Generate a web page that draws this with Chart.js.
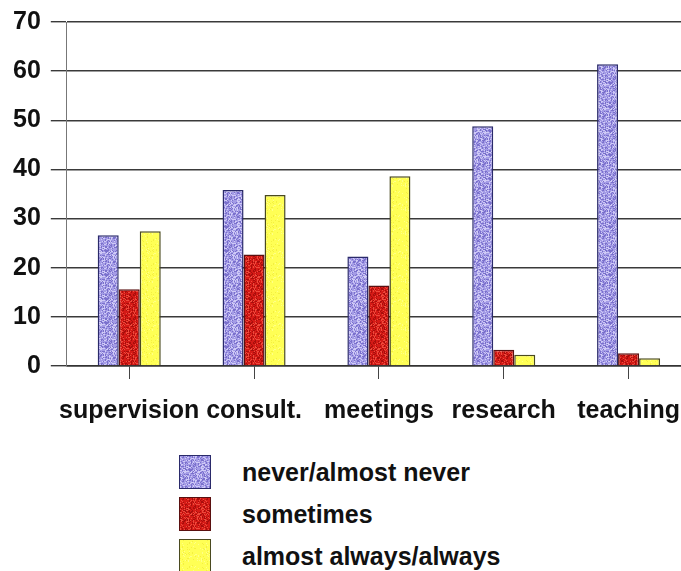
<!DOCTYPE html>
<html>
<head>
<meta charset="utf-8">
<script src="https://cdn.jsdelivr.net/npm/chart.js@4"></script>
<style>
  html, body { margin: 0; padding: 0; background: #fff; overflow: hidden; }
  #wrap { position: relative; width: 681px; height: 571px; overflow: hidden; }
  #box { position: absolute; left: 0; top: -3px; width: 700px; height: 446px; }
  #legend { position: absolute; left: 179px; top: 455px; }
  .row { display: flex; align-items: center; height: 34px; margin-bottom: 8px; }
  .sw { width: 32px; height: 34px; box-sizing: border-box; border: 1.5px solid #333; }
  .lab { margin-left: 31px; font: bold 25px "Liberation Sans", Arial, sans-serif; color: #111; white-space: nowrap; }
</style>
</head>
<body>
<div id="wrap">
  <div id="box"><canvas id="chart"></canvas></div>
  <div id="legend"></div>
</div>
<script>
// Activities and share of answers (%)
const categories = ['supervision', 'consult.', 'meetings', 'research', 'teaching'];
const seriesNames = ['never/almost never', 'sometimes', 'almost always/always'];
const neverValues = [26.6, 35.8, 22.3, 48.8, 61.4];
const sometimesValues = [15.6, 22.7, 16.4, 3.3, 2.6];
const alwaysValues = [27.4, 34.8, 38.6, 2.3, 1.6];
const yTicks = [0, 10, 20, 30, 40, 50, 60, 70];

// Speckled fill texture, seeded so it is the same on every load
function speckle(base, light, dark, amount) {
  const c = document.createElement('canvas');
  c.width = 24; c.height = 24;
  const g = c.getContext('2d');
  g.fillStyle = base;
  g.fillRect(0, 0, 24, 24);
  let s = 12345;
  const rnd = () => { s = (s * 1103515245 + 12345) & 0x7fffffff; return s / 0x7fffffff; };
  for (let y = 0; y < 24; y++) {
    for (let x = 0; x < 24; x++) {
      const r = rnd();
      if (r < amount) { g.fillStyle = light; g.fillRect(x, y, 1, 1); }
      else if (r > 1 - amount) { g.fillStyle = dark; g.fillRect(x, y, 1, 1); }
    }
  }
  return c;
}

const texPurple = speckle('#a49ce6', '#cfcaf6', '#7a70cc', 0.28);
const texRed = speckle('#d41a16', '#ee4a3c', '#a80e0c', 0.25);
const texYellow = speckle('#ffff55', '#ffff88', '#f4f040', 0.08);

const ctx = document.getElementById('chart').getContext('2d');
const fills = [
  ctx.createPattern(texPurple, 'repeat'),
  ctx.createPattern(texRed, 'repeat'),
  ctx.createPattern(texYellow, 'repeat')
];
const borders = ['#2a2a6a', '#5a1010', '#4a4a20'];
const textures = [texPurple, texRed, texYellow];
const valueSets = [neverValues, sometimesValues, alwaysValues];

const FONT = { family: '"Liberation Sans", Arial, sans-serif', size: 25, weight: 'bold' };

new Chart(ctx, {
  type: 'bar',
  data: {
    labels: categories,
    datasets: seriesNames.map((name, i) => ({
      label: name,
      data: valueSets[i],
      backgroundColor: fills[i],
      borderColor: borders[i],
      borderWidth: 1.5,
      categoryPercentage: 0.505,
      barPercentage: 1.0
    }))
  },
  options: {
    responsive: true,
    maintainAspectRatio: false,
    animation: false,
    layout: { padding: { left: 3, right: 9, top: 5, bottom: 0 } },
    plugins: { legend: { display: false }, tooltip: { enabled: false } },
    scales: {
      x: {
        grid: {
          offset: false,
          drawOnChartArea: false,
          drawTicks: true,
          tickLength: 13,
          color: '#444',
          lineWidth: 1
        },
        border: { display: true, color: '#333', width: 1.5 },
        ticks: { font: FONT, color: '#111', padding: 17, maxRotation: 0, autoSkip: false }
      },
      y: {
        min: 0,
        max: 70,
        afterBuildTicks: (axis) => { axis.ticks = yTicks.map(v => ({ value: v })); },
        grid: { color: '#3a3a3a', lineWidth: 1.4, drawTicks: true, tickLength: 16 },
        border: { display: true, color: '#777', width: 1 },
        ticks: { font: FONT, color: '#111', padding: 10 }
      }
    }
  }
});

// Legend as a vertical list below the plot
const legend = document.getElementById('legend');
seriesNames.forEach((name, i) => {
  const row = document.createElement('div');
  row.className = 'row';
  const sw = document.createElement('div');
  sw.className = 'sw';
  sw.style.backgroundImage = 'url(' + textures[i].toDataURL() + ')';
  sw.style.borderColor = borders[i];
  const lab = document.createElement('span');
  lab.className = 'lab';
  lab.textContent = name;
  row.appendChild(sw);
  row.appendChild(lab);
  legend.appendChild(row);
});
</script>
</body>
</html>
